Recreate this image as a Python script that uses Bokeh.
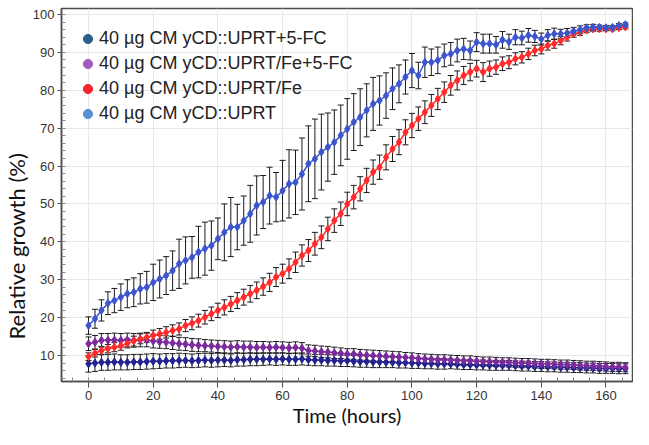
from bokeh.plotting import figure
from bokeh.models import (ColumnDataSource, Whisker, TeeHead, Legend, LegendItem,
                          Range1d, FixedTicker, Title)
from bokeh.embed import file_html
from bokeh.resources import INLINE

# ---------------- data ----------------
hours = list(range(0, 168, 2))

x_ticks = [0, 20, 40, 60, 80, 100, 120, 140, 160]
y_ticks = [10, 20, 30, 40, 50, 60, 70, 80, 90, 100]

labels = [
    "40 \u00b5g CM yCD::UPRT+5-FC",
    "40 \u00b5g CM yCD::UPRT/Fe+5-FC",
    "40 \u00b5g CM yCD::UPRT/Fe",
    "40 \u00b5g CM yCD::UPRT",
]

# 40 ug CM yCD::UPRT+5-FC
uprt_5fc = [7.8, 8.0, 8.2, 8.2, 8.3, 8.2, 8.2, 8.3, 8.3, 8.4,
            8.5, 8.5, 8.6, 8.6, 8.7, 8.7, 8.6, 8.7, 8.8, 8.7,
            8.8, 8.8, 8.7, 8.9, 8.9, 9.0, 9.0, 9.0, 9.1, 9.0,
            9.1, 9.0, 9.0, 9.1, 8.9, 8.8, 8.8, 8.7, 8.7, 8.6,
            8.6, 8.5, 8.4, 8.4, 8.3, 8.3, 8.2, 8.2, 8.1, 8.1,
            8.0, 8.0, 7.9, 7.9, 7.8, 7.8, 7.8, 7.7, 7.6, 7.6,
            7.5, 7.5, 7.4, 7.4, 7.4, 7.4, 7.3, 7.2, 7.2, 7.1,
            7.1, 7.0, 7.0, 6.9, 6.9, 6.8, 6.8, 6.7, 6.7, 6.6,
            6.6, 6.6, 6.5, 6.5]
uprt_5fc_err = [2.2, 2.2, 2.1, 2.1, 2.1, 2.0, 2.0, 2.0, 2.0, 2.0,
                2.0, 1.9, 1.9, 1.9, 1.9, 1.8, 1.8, 1.8, 1.8, 1.8,
                1.8, 1.7, 1.7, 1.7, 1.7, 1.7, 1.7, 1.6, 1.6, 1.6,
                1.6, 1.6, 1.6, 1.6, 1.5, 1.5, 1.5, 1.5, 1.5, 1.5,
                1.5, 1.5, 1.5, 1.5, 1.5, 1.5, 1.4, 1.4, 1.4, 1.4,
                1.4, 1.4, 1.4, 1.4, 1.4, 1.4, 1.3, 1.3, 1.3, 1.3,
                1.3, 1.3, 1.3, 1.3, 1.3, 1.3, 1.3, 1.3, 1.3, 1.3,
                1.3, 1.3, 1.3, 1.3, 1.3, 1.3, 1.3, 1.3, 1.3, 1.3,
                1.3, 1.3, 1.3, 1.3]

# 40 ug CM yCD::UPRT/Fe+5-FC
uprt_fe_5fc = [13.1, 13.5, 14.0, 14.0, 14.1, 14.0, 14.1, 14.0, 14.1, 14.1,
               13.8, 13.6, 13.5, 13.3, 13.1, 13.0, 12.8, 12.7, 12.6, 12.5,
               12.4, 12.3, 12.2, 12.3, 12.2, 12.2, 12.1, 12.2, 12.1, 12.2,
               12.1, 12.0, 12.1, 11.9, 11.3, 11.2, 11.0, 10.9, 10.7, 10.6,
               10.4, 10.4, 10.2, 10.1, 10.0, 9.9, 9.8, 9.7, 9.6, 9.5,
               9.4, 9.2, 9.1, 9.0, 8.9, 8.9, 8.8, 8.7, 8.6, 8.6,
               8.5, 8.4, 8.4, 8.3, 8.2, 8.2, 8.1, 8.0, 8.0, 7.9,
               7.8, 7.8, 7.7, 7.6, 7.6, 7.5, 7.4, 7.3, 7.3, 7.2,
               7.1, 7.0, 7.0, 6.9]
uprt_fe_5fc_err = [1.8, 1.8, 1.8, 1.8, 1.8, 1.8, 1.8, 1.8, 1.8, 1.8,
                   1.8, 1.7, 1.7, 1.7, 1.7, 1.7, 1.7, 1.7, 1.6, 1.6,
                   1.6, 1.6, 1.6, 1.6, 1.6, 1.6, 1.6, 1.5, 1.5, 1.5,
                   1.5, 1.5, 1.5, 1.5, 1.5, 1.5, 1.5, 1.5, 1.5, 1.4,
                   1.4, 1.4, 1.4, 1.4, 1.4, 1.4, 1.4, 1.4, 1.4, 1.3,
                   1.3, 1.3, 1.3, 1.3, 1.3, 1.3, 1.3, 1.3, 1.3, 1.3,
                   1.2, 1.2, 1.2, 1.2, 1.2, 1.2, 1.2, 1.2, 1.2, 1.2,
                   1.2, 1.2, 1.2, 1.2, 1.2, 1.2, 1.2, 1.2, 1.2, 1.2,
                   1.2, 1.2, 1.2, 1.2]

# 40 ug CM yCD::UPRT/Fe
uprt_fe = [9.7, 10.6, 11.3, 11.8, 12.2, 12.6, 13.2, 13.8, 14.4, 14.8,
           15.3, 15.7, 16.1, 16.6, 17.0, 17.9, 18.5, 19.2, 20.1, 21.0,
           21.9, 22.7, 23.6, 24.5, 25.4, 26.3, 27.2, 28.2, 29.3, 30.7,
           31.6, 32.9, 34.6, 36.4, 37.7, 39.5, 41.2, 43.4, 45.6, 47.4,
           50.0, 51.8, 54.0, 56.2, 58.4, 59.7, 62.3, 64.5, 66.3, 68.9,
           70.7, 72.5, 74.2, 76.0, 77.7, 79.5, 81.3, 82.6, 83.9, 84.8,
           85.7, 84.8, 85.7, 86.1, 87.0, 87.4, 88.3, 88.7, 89.6, 90.5,
           90.9, 91.8, 92.3, 93.1, 94.0, 94.9, 95.3, 95.9, 96.2, 96.2,
           96.2, 96.2, 96.5, 96.7]
uprt_fe_err = [1.0, 1.0, 1.1, 1.1, 1.2, 1.2, 1.2, 1.3, 1.3, 1.3,
               1.4, 1.4, 1.5, 1.5, 1.6, 1.6, 1.7, 1.7, 1.8, 1.8,
               1.9, 2.0, 2.0, 2.1, 2.1, 2.2, 2.2, 2.3, 2.4, 2.5,
               2.5, 2.6, 2.7, 2.8, 2.9, 3.0, 3.0, 3.1, 3.1, 3.1,
               3.1, 3.1, 3.2, 3.2, 3.2, 3.2, 3.3, 3.3, 3.3, 3.3,
               3.2, 3.1, 3.0, 2.9, 2.8, 2.7, 2.6, 2.5, 2.4, 2.3,
               2.2, 2.5, 2.0, 1.9, 1.8, 1.7, 1.6, 1.5, 1.5, 1.4,
               1.3, 1.2, 1.2, 1.1, 1.0, 0.9, 0.8, 0.7, 0.6, 0.6,
               0.5, 0.5, 0.5, 0.5]

# 40 ug CM yCD::UPRT
uprt = [17.9, 19.7, 21.9, 23.8, 24.5, 25.4, 26.3, 26.7, 27.6, 28.0,
        29.3, 30.2, 31.1, 32.4, 34.2, 35.1, 35.9, 37.3, 38.2, 39.0,
        40.8, 42.5, 43.9, 43.9, 45.6, 47.4, 49.6, 50.5, 52.2, 51.8,
        53.5, 55.3, 55.7, 57.9, 60.6, 61.9, 63.7, 65.0, 66.3, 68.1,
        69.8, 71.6, 72.9, 74.7, 76.4, 77.3, 78.6, 80.4, 81.7, 83.5,
        85.2, 83.9, 87.4, 87.4, 87.9, 89.2, 89.6, 90.5, 90.9, 90.5,
        92.7, 92.3, 92.3, 92.0, 93.3, 92.8, 94.0, 93.8, 94.5, 94.2,
        93.5, 94.5, 94.9, 94.9, 95.1, 95.6, 96.0, 96.5, 96.6, 96.6,
        96.5, 96.6, 97.1, 97.3]
uprt_err = [2.3, 2.5, 2.8, 3.0, 3.2, 3.5, 3.7, 3.8, 4.0, 4.2,
            4.8, 5.0, 5.0, 5.2, 6.5, 6.2, 5.5, 6.8, 7.0, 6.5,
            5.5, 7.5, 7.8, 6.0, 6.5, 7.5, 7.8, 7.0, 7.5, 6.5,
            8.0, 9.0, 8.5, 9.5, 10.0, 10.5, 10.0, 9.0, 8.5, 8.0,
            8.0, 7.5, 7.5, 7.0, 7.0, 6.5, 6.0, 5.5, 5.0, 4.5,
            4.5, 3.5, 4.0, 3.5, 3.5, 3.0, 3.0, 3.0, 2.8, 2.5,
            2.5, 2.5, 2.5, 2.2, 2.2, 2.0, 2.0, 1.8, 1.8, 1.6,
            1.6, 1.5, 1.5, 1.2, 1.2, 1.0, 1.0, 0.8, 0.8, 0.6,
            0.6, 0.5, 0.5, 0.5]

# ---------------- styling ----------------
plot_colors = ["#23238f", "#7b2b9c", "#ff2b2b", "#3d55cc"]
legend_colors = ["#2f5d8a", "#a35bbf", "#f5242a", "#5a8fd8"]
axis_color = "#4d4d4d"

p = figure(width=633, height=429, output_backend="svg", toolbar_location=None,
           x_range=Range1d(-8.35, 168.2), y_range=Range1d(3.14, 101.58),
           min_border_left=61, min_border_right=1, min_border_top=8,
           min_border_bottom=48)

p.background_fill_color = "white"
p.border_fill_color = "white"
p.outline_line_color = axis_color
p.outline_line_width = 1.5

series = [(uprt_5fc, uprt_5fc_err), (uprt_fe_5fc, uprt_fe_5fc_err),
          (uprt_fe, uprt_fe_err), (uprt, uprt_err)]

for (vals, errs), col in zip(series, plot_colors):
    src = ColumnDataSource(dict(
        x=hours, y=vals,
        upper=[v + e for v, e in zip(vals, errs)],
        lower=[v - e for v, e in zip(vals, errs)],
    ))
    wh = Whisker(source=src, base="x", upper="upper", lower="lower",
                 line_color="#1a1a1a", line_width=1,
                 upper_head=TeeHead(size=6, line_color="#1a1a1a", line_width=1),
                 lower_head=TeeHead(size=6, line_color="#1a1a1a", line_width=1))
    p.add_layout(wh)
    p.line("x", "y", source=src, line_color=col, line_width=1.5)
    p.scatter("x", "y", source=src, marker="diamond", size=8,
              fill_color=col, line_color=col)

# legend with its own swatch colours (placeholder renderers, nothing plotted)
nan = float("nan")
items = []
for lab, col in zip(labels, legend_colors):
    r = p.scatter(x=[nan], y=[nan], marker="circle", size=9, fill_color=col,
                  line_color=col)
    items.append(LegendItem(label=lab, renderers=[r]))

legend = Legend(items=items, location=(15, 256), padding=0, margin=0,
                spacing=2, glyph_width=23, glyph_height=23, label_height=22,
                label_standoff=0, label_text_font="Liberation Sans",
                label_text_font_size="18px", label_text_color="#222222",
                background_fill_alpha=0, border_line_color=None)
p.add_layout(legend)

# axes
p.xaxis.ticker = FixedTicker(ticks=x_ticks,
                             minor_ticks=[t for t in range(-5, 170, 5)])
p.yaxis.ticker = FixedTicker(ticks=y_ticks,
                             minor_ticks=[t for t in range(4, 102, 2)])

for ax in (p.xaxis, p.yaxis):
    ax.axis_line_color = axis_color
    ax.axis_line_width = 1.5
    ax.major_tick_line_color = axis_color
    ax.minor_tick_line_color = "#888888"
    ax.major_tick_in = 0
    ax.minor_tick_in = 4
    ax.minor_tick_out = 0
    ax.major_label_text_font = "Liberation Sans"
    ax.major_label_text_font_size = "13px"
    ax.major_label_text_color = "#333333"

p.xaxis.major_tick_out = 6
p.yaxis.major_tick_out = 4

p.xaxis.axis_label = "Time (hours)"
p.xaxis.axis_label_text_font = "Lato"
p.xaxis.axis_label_text_font_size = "20px"
p.xaxis.axis_label_text_font_style = "normal"
p.xaxis.axis_label_text_color = "#111111"
p.xaxis.major_label_standoff = 3
p.xaxis.axis_label_standoff = 0
p.yaxis.major_label_standoff = 3

ytitle = Title(text="Relative growth (%)", align="left", offset=42,
               text_font="Lato", text_font_size="22px",
               text_font_style="normal", text_color="#111111", standoff=0)
p.add_layout(ytitle, "left")

p.xgrid.grid_line_color = "#e8e8e8"
p.ygrid.grid_line_color = "#e8e8e8"

open("out.html", "w").write(file_html(p, INLINE))
